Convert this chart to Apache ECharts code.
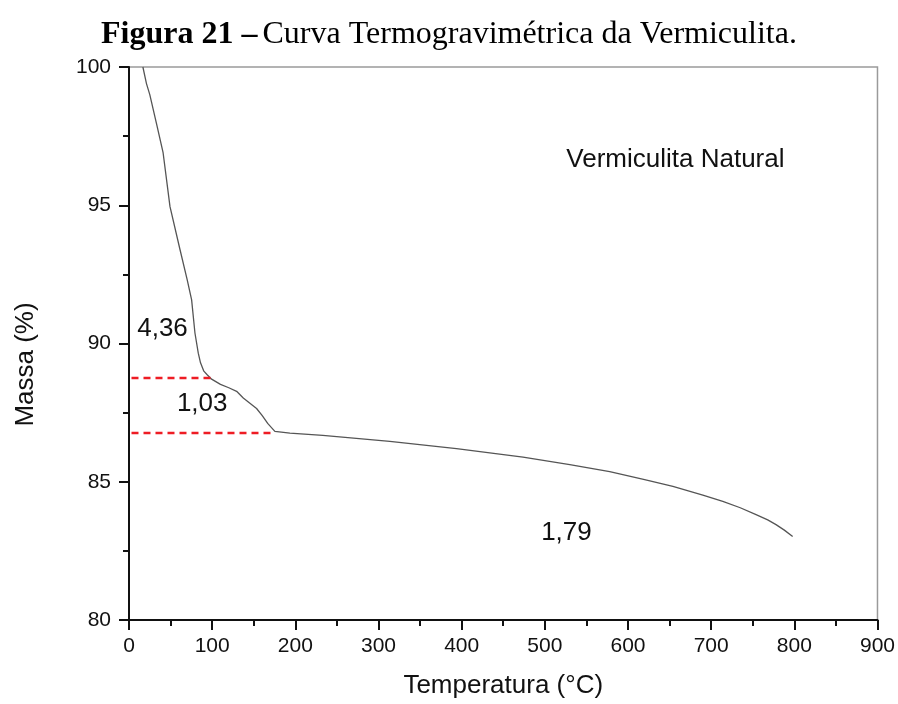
<!DOCTYPE html>
<html>
<head>
<meta charset="utf-8">
<script src="https://cdn.jsdelivr.net/npm/echarts@6/dist/echarts.min.js"></script>
<style>
  html, body { margin: 0; padding: 0; background: #fff; }
  #chart { width: 898px; height: 704px; }
</style>
</head>
<body>
<div id="chart"></div>
<script>
// curva TG (temperatura, massa)
var temperatura = [16.7, 21, 25, 33, 41, 49.3, 61.3, 70, 75.3, 79.3, 83.3, 86, 90, 94, 99.3, 110, 120, 129.4, 137.4, 145, 153.4, 160, 167, 175.4, 193.5, 233, 313.6, 393.8, 473.8, 530, 578, 620, 654, 690, 714, 735, 754, 768, 778, 788, 798];
var massa = [100, 99.4, 99.0, 97.96, 96.9, 94.95, 93.4, 92.3, 91.58, 90.38, 89.65, 89.3, 89.0, 88.87, 88.71, 88.52, 88.4, 88.27, 88.03, 87.85, 87.65, 87.4, 87.1, 86.82, 86.76, 86.68, 86.46, 86.2, 85.89, 85.62, 85.37, 85.08, 84.83, 84.52, 84.29, 84.06, 83.81, 83.62, 83.45, 83.25, 83.02];

// linhas tracejadas de perda de massa
var linhaSup = [[3, 88.75], [100, 88.75]];
var linhaInf = [[3, 86.76], [175, 86.76]];

// rotulos (x, y, texto)
var rotulos = [
  [657, 96.64, 'Vermiculita Natural'],
  [40.3, 90.53, '4,36'],
  [88, 87.82, '1,03'],
  [526, 83.16, '1,79']
];

var xTicks = [0, 900, 100];
var yTicks = [80, 100, 5];

var fonte = '"Liberation Sans", Arial, sans-serif';
var serif = '"Liberation Serif", "Times New Roman", serif';

var chart = echarts.init(document.getElementById('chart'));
chart.setOption({
  animation: false,
  backgroundColor: '#fff',
  title: {
    left: 'center',
    top: 14,
    text: '{b|Figura 21 –} {n|Curva Termogravimétrica da Vermiculita.}',
    textStyle: {
      rich: {
        b: { fontFamily: serif, fontWeight: 'bold', fontSize: 32, color: '#000' },
        n: { fontFamily: serif, fontWeight: 'normal', fontSize: 32, color: '#000' }
      }
    }
  },
  grid: {
    left: 129, top: 67, right: 20, bottom: 83,
    show: true, borderColor: '#9a9a9a', borderWidth: 1.5
  },
  xAxis: {
    type: 'value',
    min: xTicks[0], max: xTicks[1], interval: xTicks[2],
    name: 'Temperatura (°C)',
    nameLocation: 'middle',
    nameGap: 53,
    nameTextStyle: { fontFamily: fonte, fontSize: 26, color: '#111' },
    axisLine: { show: true, onZero: false, lineStyle: { color: '#111', width: 2 } },
    axisTick: { show: true, inside: false, length: 10, lineStyle: { color: '#111', width: 2 } },
    minorTick: { show: true, splitNumber: 2, length: 6, lineStyle: { color: '#111', width: 2 } },
    axisLabel: { margin: 16, fontFamily: fonte, fontSize: 21, color: '#111' },
    splitLine: { show: false }
  },
  yAxis: {
    type: 'value',
    min: yTicks[0], max: yTicks[1], interval: yTicks[2],
    name: 'Massa (%)',
    nameLocation: 'middle',
    nameGap: 90,
    nameTextStyle: { fontFamily: fonte, fontSize: 26, color: '#111', padding: [0, 42, 0, 0] },
    axisLine: { show: true, onZero: false, lineStyle: { color: '#111', width: 2 } },
    axisTick: { show: true, inside: false, length: 10, lineStyle: { color: '#111', width: 2 } },
    minorTick: { show: true, splitNumber: 2, length: 6, lineStyle: { color: '#111', width: 2 } },
    axisLabel: { margin: 18, fontFamily: fonte, fontSize: 21, color: '#111' },
    splitLine: { show: false }
  },
  series: [
    {
      name: 'TG',
      type: 'line',
      showSymbol: false,
      data: temperatura.map(function (t, i) { return [t, massa[i]]; }),
      lineStyle: { color: '#555', width: 1.3 }
    },
    {
      type: 'line',
      showSymbol: false,
      data: linhaSup,
      lineStyle: { color: '#ee1c24', width: 2.5, type: [7, 5] }
    },
    {
      type: 'line',
      showSymbol: false,
      data: linhaInf,
      lineStyle: { color: '#ee1c24', width: 2.5, type: [7, 5] }
    },
    {
      type: 'scatter',
      symbolSize: 0,
      itemStyle: { opacity: 1 },
      data: rotulos.map(function (r) { return { value: [r[0], r[1]], name: r[2] }; }),
      label: {
        show: true,
        position: 'inside',
        formatter: function (p) { return p.name; },
        fontFamily: fonte,
        fontSize: 26,
        color: '#111',
        opacity: 1
      }
    }
  ]
});
</script>
</body>
</html>
